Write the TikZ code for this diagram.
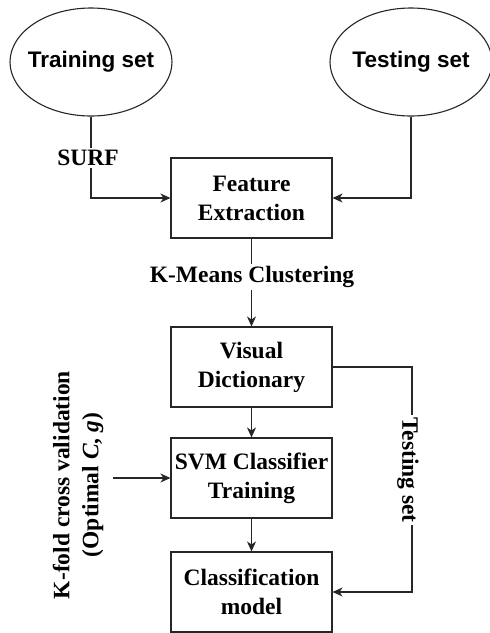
\documentclass[tikz,border=0pt]{standalone}
\usepackage{fontspec}
\setmainfont{Liberation Serif}
\newfontfamily\headsans{Liberation Sans}
\usetikzlibrary{arrows.meta,shapes.geometric}

\tikzset{
  x=1pt, y=1pt,
  wire/.style={draw=black!85, line width=1.2pt},
  flow/.style={wire, -{Stealth[length=10pt,width=9pt,inset=3pt]}},
  source/.style={ellipse, draw=black!85, line width=1.1pt, inner sep=0pt,
    minimum width=162pt, minimum height=108pt,
    font=\headsans\bfseries\fontsize{22.5}{27}\selectfont},
  stage/.style={rectangle, draw=black!85, line width=1.1pt, inner sep=2pt,
    minimum width=161pt, minimum height=80pt, align=center,
    font=\bfseries\fontsize{23.5}{29}\selectfont},
  tag/.style={fill=white, inner sep=2pt, align=center,
    font=\bfseries\fontsize{23.5}{29}\selectfont},
}

\begin{document}
\begin{tikzpicture}
  \useasboundingbox (0,0) rectangle (490,-633);

  % input data sets (the outline size is fixed, not driven by the text)
  \node[source] (train) at (91,-62) {\makebox[0pt]{Training set}};
  \node[source] (test)  at (411,-62) {\makebox[0pt]{Testing set}};

  % processing stages
  \node[stage] (feat) at (251.5,-198) {Feature\\Extraction};
  \node[stage] (dict) at (251.5,-367) {Visual\\Dictionary};
  \node[stage] (svm)  at (251.5,-478) {SVM Classifier\\Training};
  \node[stage] (model) at (251.5,-592) {Classification\\model};

  % helper points for the side routes
  \coordinate (cvin) at (113,-478);
  \coordinate (bend) at (412,-367);

  % connectors
  \draw[flow] (train.south) |- (feat.west);
  \draw[flow] (test.south) |- (feat.east);
  \draw[flow] (feat) -- (dict);
  \draw[flow] (dict) -- (svm);
  \draw[flow] (svm) -- (model);
  \draw[flow] (cvin) -- (svm.west);
  \draw[flow] (dict.east) -- (bend) |- (model.east);

  % labels on the connectors
  \node[tag] (surf) at (88,-158) {SURF};
  \node[tag] (kmeans) at (252,-277) {K-Means Clustering};
  \node[tag, rotate=-90] (testlbl) at (408,-470) {Testing set};
  \node[tag, fill=none, rotate=90] (kfold) at (78,-485)
    {K-fold cross validation\\(Optimal \textit{C}, \textit{g})};
\end{tikzpicture}
\end{document}
